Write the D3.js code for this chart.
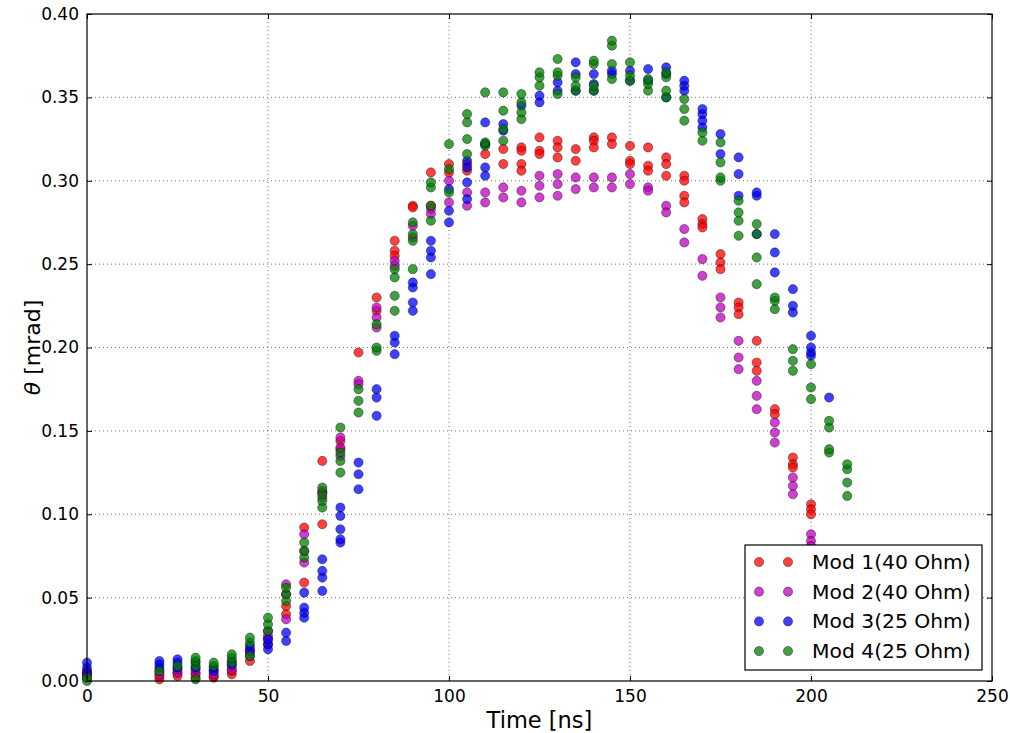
<!DOCTYPE html>
<html>
<head>
<meta charset="utf-8">
<script src="https://cdn.jsdelivr.net/npm/d3@7"></script>
<style>
    body { margin: 0; background: #fff; }
    svg { display: block; font-family: 'DejaVu Sans', sans-serif; }
    .grid line { stroke: #000; stroke-opacity: 0.55; stroke-dasharray: 1, 3; }
</style>
</head>
<body>
<svg id="chart" width="1010" height="733"></svg>
<script>
// sample times (ns); each series holds the repeated measurements at every time
const TIMES = [0, 20, 25, 30, 35, 40, 45, 50, 55, 60, 65, 70, 75, 80, 85, 90, 95, 100, 105, 110,
    115, 120, 125, 130, 135, 140, 145, 150, 155, 160, 165, 170, 175, 180, 185, 190, 195, 200, 205, 210]

const MOD1 = [
    [0.002, 0.004, 0.006], [0.001, 0.003], [0.003, 0.005], [0.002, 0.004], [0.002, 0.003], [0.004, 0.006],
    [0.012, 0.017], [0.022, 0.025], [0.040, 0.045], [0.059, 0.092], [0.094, 0.132, 0.113], [0.144, 0.139],
    [0.197], [0.230, 0.222], [0.264, 0.258, 0.255], [0.285, 0.284], [0.305, 0.285], [0.310, 0.305],
    [0.310, 0.306], [0.316, 0.322], [0.319, 0.310], [0.320, 0.318, 0.310, 0.306], [0.326, 0.318, 0.316],
    [0.324, 0.320, 0.314], [0.319, 0.312], [0.326, 0.324, 0.320], [0.326, 0.322], [0.321, 0.312, 0.310],
    [0.320, 0.309, 0.306], [0.314, 0.310, 0.303], [0.303, 0.300, 0.291, 0.287], [0.277, 0.274, 0.272],
    [0.256, 0.251, 0.247], [0.227, 0.224, 0.220], [0.204, 0.191, 0.186], [0.163, 0.160],
    [0.134, 0.130, 0.128], [0.106, 0.103, 0.100], [], []
]
const MOD2 = [
    [0.003, 0.005], [0.004, 0.006], [0.005, 0.007], [0.005, 0.007], [0.004, 0.006], [0.007, 0.009],
    [0.015, 0.019], [0.027, 0.030], [0.037, 0.052, 0.058], [0.071, 0.088, 0.078], [0.110, 0.114],
    [0.146, 0.140, 0.135], [0.180, 0.178], [0.224, 0.218, 0.212], [0.252, 0.249], [0.273, 0.266],
    [0.283, 0.280], [0.300, 0.287], [0.293, 0.285], [0.293, 0.287], [0.296, 0.290], [0.294, 0.287],
    [0.303, 0.297, 0.290], [0.304, 0.298, 0.291], [0.302, 0.295], [0.302, 0.296], [0.302, 0.296],
    [0.304, 0.298], [0.296, 0.294], [0.285, 0.281], [0.271, 0.263], [0.253, 0.243], [0.230, 0.224, 0.218],
    [0.204, 0.194, 0.187], [0.180, 0.171, 0.163], [0.155, 0.149, 0.143], [0.122, 0.117, 0.112],
    [0.088, 0.084, 0.081], [], []
]
const MOD3 = [
    [0.005, 0.008, 0.011], [0.008, 0.010, 0.012], [0.008, 0.011, 0.013], [0.008, 0.011], [0.006, 0.008],
    [0.010, 0.012], [0.018, 0.021], [0.019, 0.022, 0.025], [0.024, 0.029], [0.038, 0.041, 0.044, 0.053],
    [0.054, 0.062, 0.066, 0.073], [0.083, 0.085, 0.091, 0.099, 0.104], [0.115, 0.124, 0.131],
    [0.159, 0.170, 0.175], [0.196, 0.203, 0.207], [0.222, 0.227, 0.236, 0.239], [0.244, 0.254, 0.258, 0.264],
    [0.275, 0.282, 0.295], [0.289, 0.299, 0.308, 0.312], [0.303, 0.308, 0.322, 0.335], [0.330, 0.334],
    [0.345], [0.347, 0.351], [0.354, 0.359], [0.354, 0.364, 0.371], [0.354, 0.358, 0.364], [0.364, 0.366],
    [0.360, 0.366], [0.367, 0.360], [0.364, 0.368, 0.350], [0.354, 0.357, 0.360], [0.332, 0.336, 0.340, 0.343],
    [0.316, 0.328], [0.291, 0.304, 0.314], [0.268, 0.291, 0.293], [0.245, 0.257, 0.268], [0.221, 0.225, 0.235],
    [0.195, 0.197, 0.200, 0.207], [0.170], []
]
const MOD4 = [
    [0.000, 0.002], [0.006], [0.009], [0.001, 0.009, 0.012, 0.014], [0.009, 0.011], [0.011, 0.014, 0.016],
    [0.015, 0.023, 0.026], [0.030, 0.034, 0.038], [0.048, 0.052, 0.056], [0.074, 0.078, 0.083],
    [0.104, 0.108, 0.112, 0.116], [0.125, 0.132, 0.137, 0.152], [0.161, 0.168, 0.175], [0.198, 0.200, 0.214],
    [0.222, 0.231, 0.242, 0.247], [0.247, 0.264, 0.268, 0.275], [0.276, 0.285, 0.296, 0.299],
    [0.293, 0.307, 0.322], [0.316, 0.325, 0.335, 0.340], [0.321, 0.323, 0.353], [0.324, 0.331, 0.342, 0.353],
    [0.337, 0.341, 0.347, 0.352], [0.357, 0.362, 0.365], [0.352, 0.363, 0.365, 0.373], [0.354, 0.357, 0.362],
    [0.354, 0.357, 0.370, 0.372], [0.361, 0.370, 0.381, 0.384], [0.360, 0.363, 0.371], [0.354, 0.358, 0.361],
    [0.350, 0.354, 0.362, 0.365], [0.336, 0.343, 0.349], [0.324, 0.329], [0.300, 0.302, 0.311, 0.323],
    [0.267, 0.276, 0.281, 0.288], [0.238, 0.254, 0.268, 0.274], [0.223, 0.228, 0.230], [0.186, 0.192, 0.199],
    [0.169, 0.176, 0.190], [0.137, 0.139, 0.152, 0.156], [0.111, 0.119, 0.127, 0.130]
]

const SERIES_NAMES = ['Mod 1(40 Ohm)', 'Mod 2(40 Ohm)', 'Mod 3(25 Ohm)', 'Mod 4(25 Ohm)']
const SERIES_COLORS = ['#ff0000', '#bf00bf', '#0000ff', '#008000']
const X_TICKS = [0, 50, 100, 150, 200, 250]
const Y_TICKS = [0, 0.05, 0.10, 0.15, 0.20, 0.25, 0.30, 0.35, 0.40]

const svg = d3.select('#chart')
const margin = { top: 14, right: 18, bottom: 52, left: 87 }
const width = 1010 - margin.left - margin.right
const height = 733 - margin.top - margin.bottom

const x = d3.scaleLinear().domain([0, 250]).range([0, width])
const y = d3.scaleLinear().domain([0, 0.40]).range([height, 0])

const g = svg.append('g').attr('transform', 'translate(' + margin.left + ',' + margin.top + ')')

// dotted grid
g.append('g').attr('class', 'grid')
    .selectAll('line.vx').data(X_TICKS.slice(1, -1)).enter().append('line')
    .attr('x1', d => x(d)).attr('x2', d => x(d)).attr('y1', 0).attr('y2', height)
g.select('.grid')
    .selectAll('line.hy').data(Y_TICKS.slice(1, -1)).enter().append('line')
    .attr('x1', 0).attr('x2', width).attr('y1', d => y(d)).attr('y2', d => y(d))

// points, one group per series
const allSeries = [MOD1, MOD2, MOD3, MOD4]
allSeries.forEach((series, si) => {
    let pts = []
    series.forEach((vals, ti) => {
        vals.forEach(v => pts.push({ t: TIMES[ti], v: v }))
    })
    g.append('g')
        .selectAll('circle').data(pts).enter().append('circle')
        .attr('cx', d => x(d.t))
        .attr('cy', d => y(d.v))
        .attr('r', 4.6)
        .attr('fill', SERIES_COLORS[si])
        .attr('fill-opacity', 0.75)
        .attr('stroke', '#000')
        .attr('stroke-opacity', 0.65)
        .attr('stroke-width', 0.6)
})

// axes: ticks point inward, mirrored on top and right
const fmtY = d3.format('.2f')
g.append('g').attr('transform', 'translate(0,' + height + ')')
    .call(d3.axisBottom(x).tickValues(X_TICKS).tickSizeInner(-5).tickSizeOuter(0).tickPadding(9))
g.append('g')
    .call(d3.axisTop(x).tickValues(X_TICKS).tickSizeInner(-5).tickSizeOuter(0).tickFormat(''))
g.append('g')
    .call(d3.axisLeft(y).tickValues(Y_TICKS).tickSizeInner(-5).tickSizeOuter(0).tickPadding(8).tickFormat(fmtY))
g.append('g').attr('transform', 'translate(' + width + ',0)')
    .call(d3.axisRight(y).tickValues(Y_TICKS).tickSizeInner(-5).tickSizeOuter(0).tickFormat(''))
g.selectAll('.domain').remove()
g.selectAll('.tick line').attr('stroke', '#000')
g.selectAll('.tick text').attr('font-size', 17).attr('font-family', 'DejaVu Sans').attr('fill', '#000')

g.append('rect')
    .attr('width', width).attr('height', height)
    .attr('fill', 'none').attr('stroke', '#000').attr('stroke-width', 1.2)

// axis labels
svg.append('text')
    .attr('x', margin.left + width / 2).attr('y', 728)
    .attr('text-anchor', 'middle').attr('font-size', 22.5)
    .text('Time [ns]')
const yl = svg.append('text')
    .attr('transform', 'translate(40,' + (margin.top + height / 2) + ') rotate(-90)')
    .attr('text-anchor', 'middle').attr('font-size', 22)
yl.append('tspan').attr('font-style', 'italic').text('θ')
yl.append('tspan').text(' [mrad]')

// legend
const legend = svg.append('g').attr('transform', 'translate(745,545)')
legend.append('rect')
    .attr('width', 237).attr('height', 125)
    .attr('fill', '#fff').attr('stroke', '#000').attr('stroke-width', 1.2)
const legendItem = legend.selectAll('g.item').data(SERIES_NAMES).enter().append('g')
    .attr('class', 'item')
    .attr('transform', (d, i) => 'translate(0,' + (17 + i * 29.7) + ')')
legendItem.selectAll('circle').data((d, i) => [i, i]).enter().append('circle')
    .attr('cx', (d, j) => j === 0 ? 14 : 43)
    .attr('cy', 0)
    .attr('r', 4.6)
    .attr('fill', d => SERIES_COLORS[d])
    .attr('fill-opacity', 0.75)
    .attr('stroke', '#000').attr('stroke-opacity', 0.65).attr('stroke-width', 0.6)
legendItem.append('text')
    .attr('x', 67).attr('y', 7)
    .attr('font-size', 20.3)
    .text(d => d)
</script>
</body>
</html>
